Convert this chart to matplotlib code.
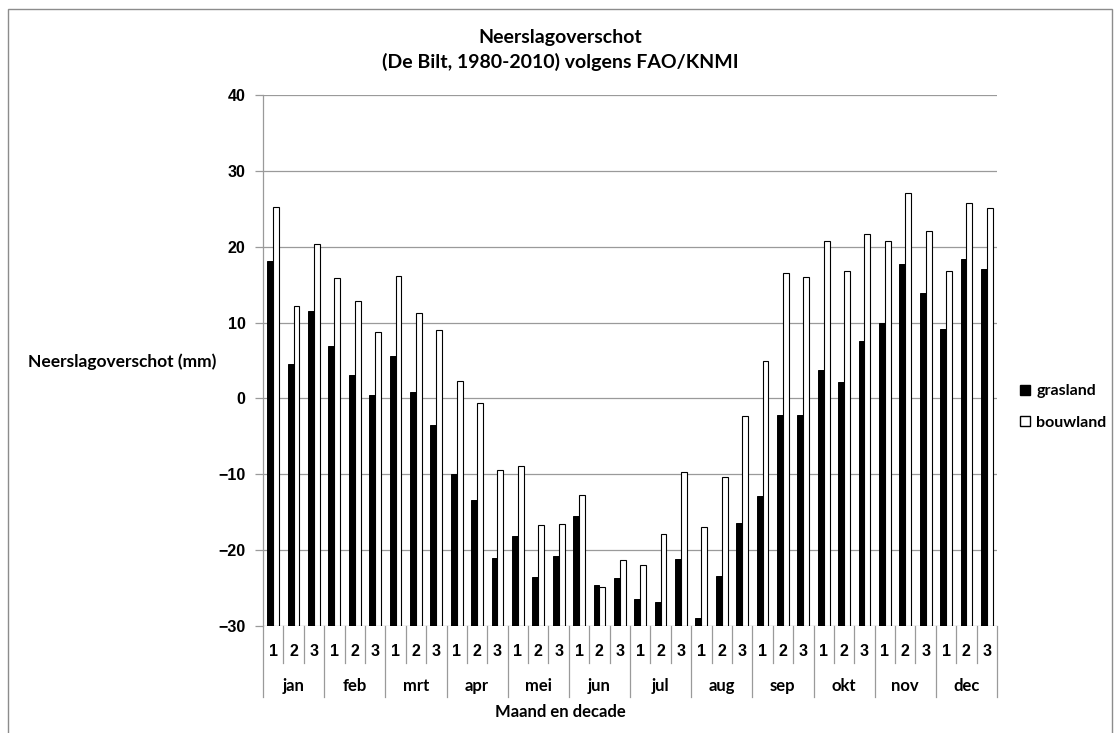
import numpy as np
import matplotlib.pyplot as plt
from matplotlib.patches import Patch, Rectangle
import matplotlib.transforms as mtrans

# data (mm, per decade)
months = ['jan', 'feb', 'mrt', 'apr', 'mei', 'jun', 'jul', 'aug', 'sep', 'okt', 'nov', 'dec']
decades = ['1', '2', '3']
grasland = [18.1, 4.6, 11.5, 6.9, 3.1, 0.4, 5.6, 0.8, -3.5, -9.9, -13.4, -21.1,
            -18.2, -23.5, -20.8, -15.5, -24.6, -23.7, -26.5, -26.8, -21.2, -29.0, -23.4, -16.4,
            -12.8, -2.2, -2.2, 3.8, 2.2, 7.6, 9.9, 17.7, 13.9, 9.1, 18.4, 17.1]
bouwland = [25.2, 12.2, 20.4, 15.9, 12.8, 8.8, 16.2, 11.2, 9.0, 2.3, -0.6, -9.5,
            -8.9, -16.7, -16.5, -12.7, -24.8, -21.3, -21.9, -17.9, -9.7, -17.0, -10.4, -2.3,
            5.0, 16.6, 16.0, 20.7, 16.8, 21.7, 20.7, 27.1, 22.1, 16.8, 25.7, 25.1]

CAL = ['Lato', 'DejaVu Sans']
ARL = ['Liberation Sans', 'DejaVu Sans']
grid_c = '#9a9a9a'
ymin, ymax = -30, 40

fig = plt.figure(figsize=(11.18, 7.33), dpi=100)
ax = fig.add_axes([263/1118, 1-626/733, (997-263)/1118, (626-95)/733])

n = len(grasland)
x = np.arange(n) + 0.5
w = 0.29
# bars grow up from the bottom of the axis (-30), like the excel original
g = np.array(grasland)
b = np.array(bouwland)
ax.bar(x - w/2, g - ymin, w, bottom=ymin, color='black', edgecolor='black',
       linewidth=0.7, zorder=3)
ax.bar(x + w/2, b - ymin, w, bottom=ymin, color='white', edgecolor='black',
       linewidth=0.8, zorder=3)

ax.set_xlim(0, n)
ax.set_ylim(ymin, ymax)
ax.set_yticks(np.arange(ymin, ymax + 1, 10))
ax.yaxis.grid(True, color=grid_c, linewidth=0.9, zorder=0)
ax.set_axisbelow(True)
for s in ['top', 'right', 'bottom']:
    ax.spines[s].set_visible(False)
ax.spines['left'].set_color(grid_c)
ax.spines['left'].set_linewidth(0.9)
ax.tick_params(axis='y', length=6, width=0.9, color=grid_c, pad=6.5, labelsize=11.5)
for lab in ax.get_yticklabels():
    lab.set_family(ARL)
    lab.set_fontweight('bold')
ax.set_xticks([])

# multi-level category axis
tr = mtrans.blended_transform_factory(ax.transData, ax.transAxes)
h = (626 - 95)
for i in range(n + 1):
    if i % 3 == 0:
        y1 = -(697 - 626) / h
    else:
        y1 = -(663 - 626) / h
    ax.plot([i, i], [0, y1], color=grid_c, linewidth=0.9, transform=tr, clip_on=False)
for i in range(n):
    ax.text(i + 0.5, -(651 - 626) / h, decades[i % 3], transform=tr, ha='center',
            va='center', fontsize=11.5, fontweight='bold', family=ARL)
for m, name in enumerate(months):
    ax.text(3 * m + 1.5, -(686 - 626) / h, name, transform=tr, ha='center', va='center',
            fontsize=12, fontweight='bold', family=CAL)

fig.text(560/1118, 1-712/733, 'Maand en decade', ha='center', va='center',
         fontsize=12, fontweight='bold', family=CAL)
fig.text(28/1118, 1-362/733, 'Neerslagoverschot (mm)', ha='left', va='center',
         fontsize=12.5, fontweight='bold', family=CAL)
fig.text(560/1118, 1-37/733, 'Neerslagoverschot', ha='center', va='center',
         fontsize=14, fontweight='bold', family=CAL)
fig.text(560/1118, 1-62/733, '(De Bilt, 1980-2010) volgens FAO/KNMI', ha='center',
         va='center', fontsize=14, fontweight='bold', family=CAL)

handles = [Patch(facecolor='black', edgecolor='black', label='grasland'),
           Patch(facecolor='white', edgecolor='black', label='bouwland')]
leg = fig.legend(handles=handles, loc='center left', bbox_to_anchor=(1006/1118, 1-407/733),
                 frameon=False, handlelength=0.6, handleheight=0.6, handletextpad=0.4,
                 labelspacing=1.1, prop={'family': CAL, 'weight': 'bold', 'size': 11.5})

# outer chart border
fig.patches.append(Rectangle((8/1118, -0.01), (1112-8)/1118, 1-9/733 + 0.01,
                             transform=fig.transFigure, fill=False, edgecolor='#8c8c8c',
                             linewidth=1.0))

fig.savefig('out.png', dpi=100)
